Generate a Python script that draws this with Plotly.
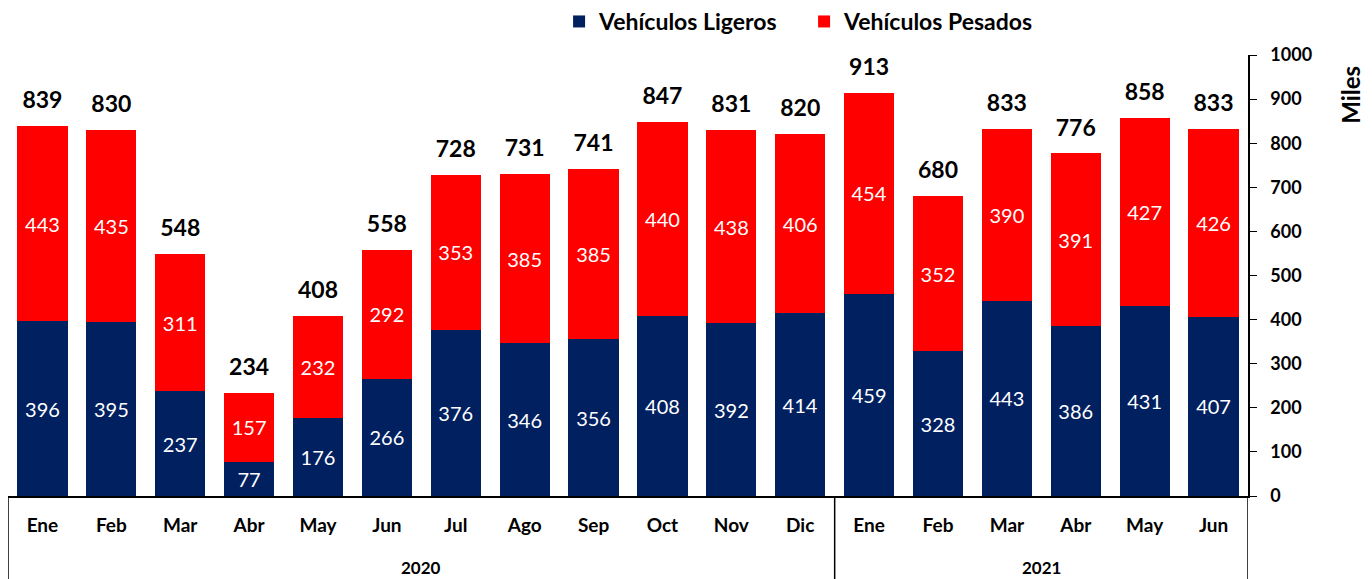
import plotly.graph_objects as go

# datos (miles)
MESES = ["Ene", "Feb", "Mar", "Abr", "May", "Jun", "Jul", "Ago", "Sep", "Oct", "Nov", "Dic",
         "Ene", "Feb", "Mar", "Abr", "May", "Jun"]
ANIOS = ["2020"] * 12 + ["2021"] * 6
LIGEROS = [396, 395, 237, 77, 176, 266, 376, 346, 356, 408, 392, 414,
           459, 328, 443, 386, 431, 407]
PESADOS = [443, 435, 311, 157, 232, 292, 353, 385, 385, 440, 438, 406,
           454, 352, 390, 391, 427, 426]
TOTALES = [839, 830, 548, 234, 408, 558, 728, 731, 741, 847, 831, 820,
           913, 680, 833, 776, 858, 833]
Y_TICKS = list(range(0, 1001, 100))

AZUL = "#002060"
ROJO = "#FF0000"
FUENTE = "Lato, sans-serif"

idx = list(range(len(MESES)))

fig = go.Figure()
fig.add_trace(go.Bar(
    x=idx, y=LIGEROS, name="Vehículos Ligeros",
    marker=dict(color=AZUL, line=dict(width=0)),
    text=LIGEROS, textposition="inside", insidetextanchor="middle",
    textfont=dict(color="white", size=20, family=FUENTE),
    constraintext="none",
))
fig.add_trace(go.Bar(
    x=idx, y=PESADOS, name="Vehículos Pesados",
    marker=dict(color=ROJO, line=dict(width=0)),
    text=PESADOS, textposition="inside", insidetextanchor="middle",
    textfont=dict(color="white", size=20, family=FUENTE),
    constraintext="none",
))
# totales encima de cada barra (marcador invisible para separar el texto)
fig.add_trace(go.Scatter(
    x=idx, y=TOTALES, mode="markers+text", text=TOTALES,
    textposition="top center",
    marker=dict(size=18, color="rgba(0,0,0,0)"),
    textfont=dict(color="black", size=23, family=FUENTE, weight="bold"),
    showlegend=False, hoverinfo="skip",
))

fig.update_layout(
    width=1372, height=579,
    barmode="stack", bargap=0.27,
    plot_bgcolor="white", paper_bgcolor="white",
    font=dict(family=FUENTE, color="black", size=16),
    margin=dict(l=8, r=124, t=55, b=83, autoexpand=False),
    uniformtext=dict(mode=False),
    legend=dict(
        orientation="h", x=0.642, xanchor="center", y=1.0, yanchor="top",
        yref="container", font=dict(size=23, weight="bold"),
        traceorder="normal", itemwidth=30, entrywidth=200,
    ),
)

fig.update_xaxes(
    range=[-0.5, len(MESES) - 0.5], tickvals=idx, ticktext=MESES,
    showline=True, linecolor="black", linewidth=1.5,
    ticks="", ticklabelstandoff=11,
    tickfont=dict(size=19, weight="bold"),
    showgrid=False, zeroline=False,
)
fig.update_yaxes(
    side="right", range=[0, 1000], tickvals=Y_TICKS,
    showline=True, linecolor="black", linewidth=1.5,
    ticks="outside", ticklen=7, tickcolor="black", ticklabelstandoff=10,
    tickfont=dict(size=18, weight="bold"),
    showgrid=False, zeroline=False,
)

# separadores y etiquetas de año
anios_unicos = list(dict.fromkeys(ANIOS))
limites = [-0.5]
for a in anios_unicos:
    limites.append(len(ANIOS) - ANIOS[::-1].index(a) - 0.5)
for b in limites:
    fig.add_shape(type="line", xref="x", yref="paper", x0=b, x1=b, y0=0, y1=-0.2,
                  line=dict(color="black", width=1.5))
for i, a in enumerate(anios_unicos):
    fig.add_annotation(
        text=a, showarrow=False, xref="x", yref="paper",
        x=(limites[i] + limites[i + 1]) / 2, y=-0.161, yanchor="middle",
        font=dict(size=17, weight="bold", family=FUENTE),
    )

fig.add_annotation(
    text="Miles", textangle=-90, showarrow=False,
    xref="paper", yref="paper", x=1.082, y=0.909, xanchor="center", yanchor="middle",
    font=dict(size=24, weight="bold", family=FUENTE),
)

fig.write_html("out.html", config={"displayModeBar": False},
               post_script="document.body.style.margin='0';")
